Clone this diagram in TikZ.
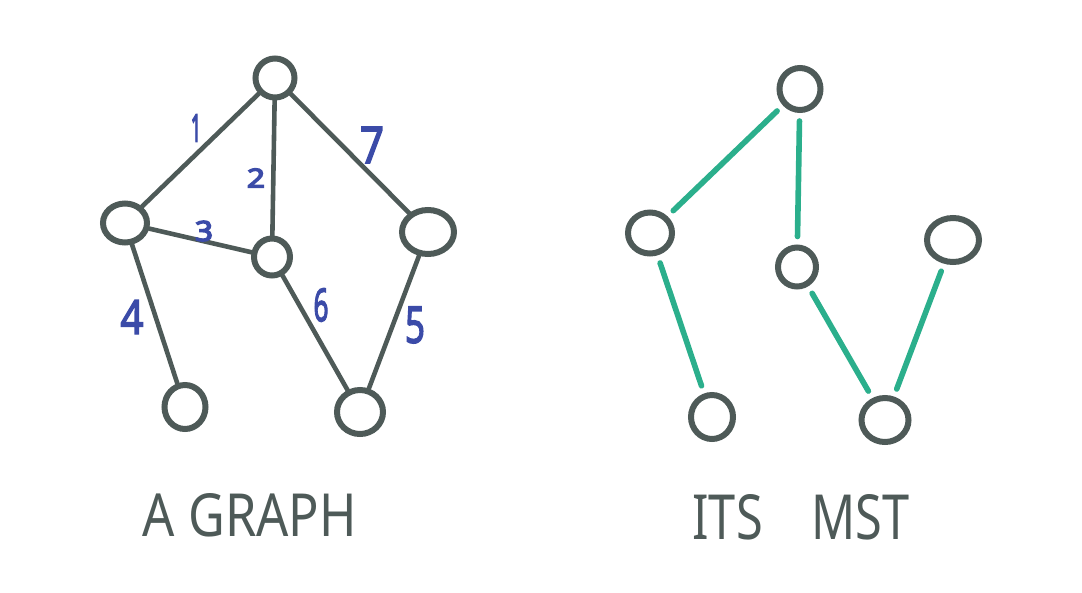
\documentclass[tikz,border=0pt]{standalone}
\usepackage{fontspec}
\setmainfont{Noto Sans}
\newfontfamily\digitfont[FakeBold=3]{Noto Sans}
\newfontfamily\smalldigitfont[FakeBold=5]{Noto Sans}
\usepackage{graphicx}
\usetikzlibrary{shapes.geometric}
\definecolor{gcol}{HTML}{4E5A58}
\definecolor{bcol}{HTML}{3B4BA8}
\definecolor{mcol}{HTML}{2BAF8C}
\tikzset{
  vtx/.style={draw=gcol, line width=6pt, ellipse, inner sep=0pt},
  gedge/.style={draw=gcol, line width=4.6pt, line cap=round},
  medge/.style={draw=mcol, line width=5.6pt, line cap=round, shorten <=8pt, shorten >=8pt},
  elab/.style={text=bcol, inner sep=0pt, font=\digitfont},
  selab/.style={text=bcol, inner sep=0pt, font=\smalldigitfont},
  ttl/.style={text=gcol, inner sep=0pt}
}
\begin{document}
\begin{tikzpicture}[x=1pt,y=-1pt]
\useasboundingbox (0,0) rectangle (1082,592);
% left graph
\node[vtx, minimum width=39pt, minimum height=39pt] (t) at (275,78) {};
\node[vtx, minimum width=44pt, minimum height=39pt] (l) at (125,223) {};
\node[vtx, minimum width=36pt, minimum height=37pt] (m) at (272,257) {};
\node[vtx, minimum width=52pt, minimum height=44pt] (r) at (428,232) {};
\node[vtx, minimum width=41pt, minimum height=44pt] (bl) at (185,407) {};
\node[vtx, minimum width=46pt, minimum height=44pt] (br) at (360,412) {};
\draw[gedge] (t) -- (l);
\draw[gedge] (t) -- (m);
\draw[gedge] (t) -- (r);
\draw[gedge] (l) -- (m);
\draw[gedge] (l) -- (bl);
\draw[gedge] (m) -- (br);
\draw[gedge] (r) -- (br);
\node[selab] (w1) at (196,128) {\resizebox{10pt}{27pt}{1}};
\node[selab] (w2) at (256,178) {\resizebox{18pt}{19pt}{2}};
\node[selab] (w3) at (204,231) {\resizebox{18pt}{20pt}{3}};
\node[elab] (w4) at (132,317) {\resizebox{23pt}{34pt}{4}};
\node[elab] (w5) at (415,325) {\resizebox{20pt}{36pt}{5}};
\node[elab] (w6) at (321,305) {\resizebox{15pt}{33pt}{6}};
\node[elab] (w7) at (372,145) {\resizebox{24pt}{36pt}{7}};
% right graph (MST)
\node[vtx, minimum width=41pt, minimum height=42pt] (t2) at (800,89) {};
\node[vtx, minimum width=44pt, minimum height=41pt] (l2) at (650,233) {};
\node[vtx, minimum width=38pt, minimum height=39pt] (m2) at (797,267) {};
\node[vtx, minimum width=52pt, minimum height=44pt] (r2) at (953,240) {};
\node[vtx, minimum width=42pt, minimum height=44pt] (bl2) at (712,417) {};
\node[vtx, minimum width=47pt, minimum height=44pt] (br2) at (885,420) {};
\draw[medge] (t2) -- (l2);
\draw[medge] (t2) -- (m2);
\draw[medge] (l2) -- (bl2);
\draw[medge] (m2) -- (br2);
\draw[medge] (r2) -- (br2);
% titles
\node[ttl] (title1) at (250,515) {\resizebox{214pt}{43pt}{A GRAPH}};
\node[ttl] (title2) at (801,517) {\resizebox{217pt}{45pt}{ITS\hspace{1em}MST}};
\end{tikzpicture}
\end{document}
